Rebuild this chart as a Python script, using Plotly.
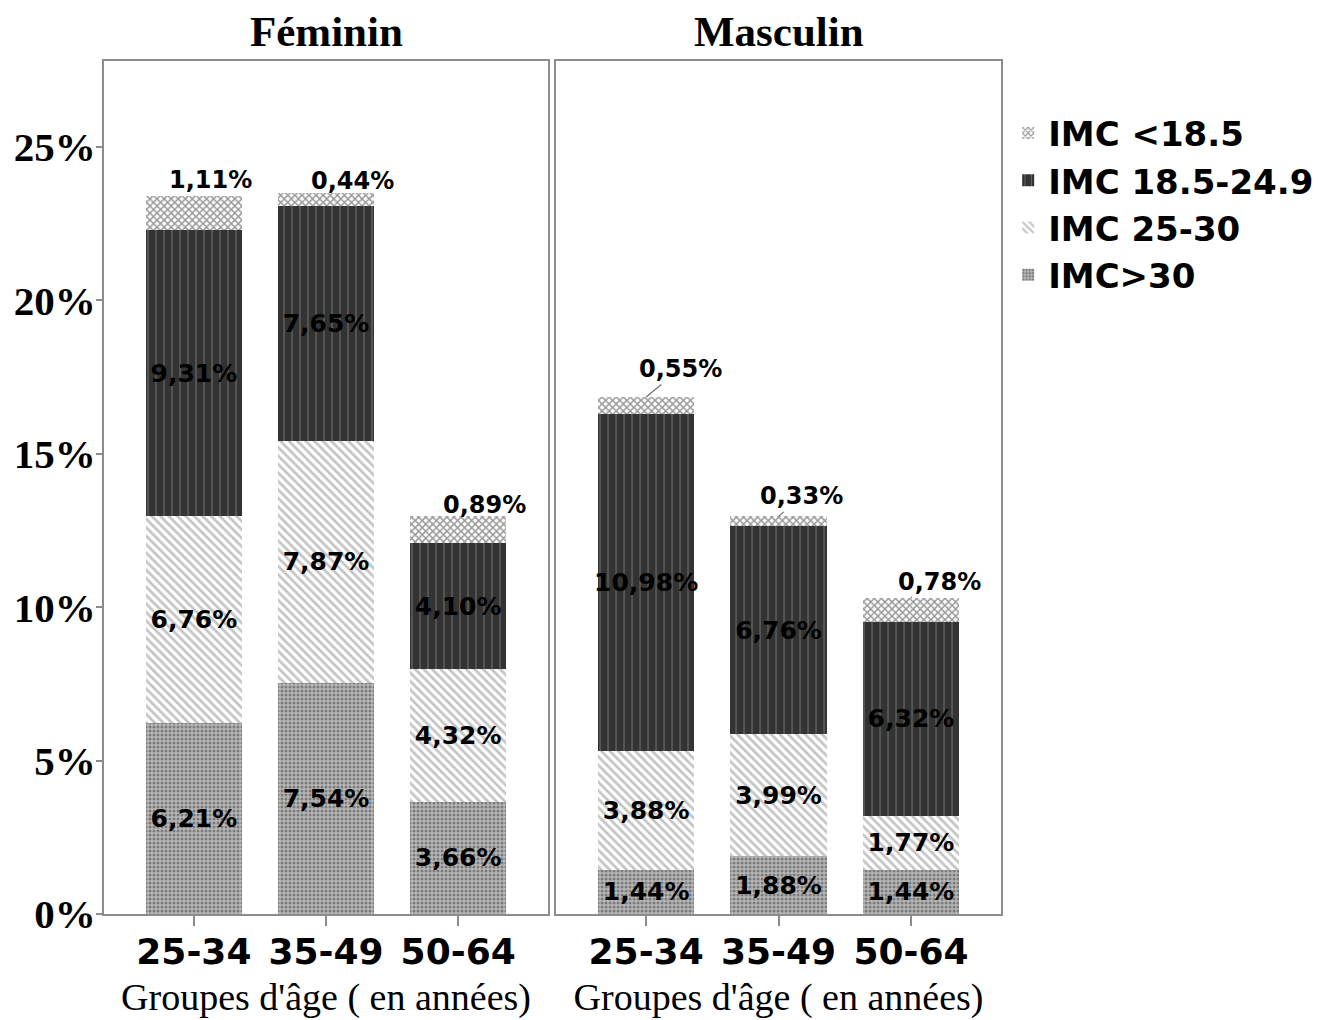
import plotly.graph_objects as go

# ---------------- data ----------------
age_groups = ["25-34", "35-49", "50-64"]
sexes = ["Féminin", "Masculin"]
series_names = ["IMC>30", "IMC 25-30", "IMC 18.5-24.9", "IMC <18.5"]  # stacking order bottom -> top

fem_imc_over30 = [6.21, 7.54, 3.66]
fem_imc_25_30 = [6.76, 7.87, 4.32]
fem_imc_18_25 = [9.31, 7.65, 4.10]
fem_imc_under18 = [1.11, 0.44, 0.89]

mas_imc_over30 = [1.44, 1.88, 1.44]
mas_imc_25_30 = [3.88, 3.99, 1.77]
mas_imc_18_25 = [10.98, 6.76, 6.32]
mas_imc_under18 = [0.55, 0.33, 0.78]

y_tick_vals = [0, 5, 10, 15, 20, 25]
y_tick_text = ["0%", "5%", "10%", "15%", "20%", "25%"]
x_title = "Groupes d'âge ( en années)"

# ---------------- styles ----------------
patterns = {
    "IMC>30": dict(shape=".", bgcolor="#b8b8b8", fgcolor="#7a7a7a", size=4, solidity=0.45, fillmode="replace"),
    "IMC 25-30": dict(shape="\\", bgcolor="#ffffff", fgcolor="#c4c4c4", size=6, solidity=0.45, fillmode="replace"),
    "IMC 18.5-24.9": dict(shape="|", bgcolor="#333333", fgcolor="#6a6a6a", size=8, solidity=0.15, fillmode="replace"),
    "IMC <18.5": dict(shape="x", bgcolor="#ffffff", fgcolor="#9a9a9a", size=5, solidity=0.5, fillmode="replace"),
}
# pixel offsets of the top (IMC <18.5) labels: per panel, per bar
top_label_offsets = {
    "Féminin": [(17, -16), (26, -12), (26, -11)],
    "Masculin": [(34, -28), (23, -20), (29, -16)],
}

SANS = "DejaVu Sans"
SERIF = "Liberation Serif"
AXIS_GRAY = "#8c8c8c"


def fmt(v):
    return f"{v:.2f}".replace(".", ",") + "%"


data = {
    "Féminin": [fem_imc_over30, fem_imc_25_30, fem_imc_18_25, fem_imc_under18],
    "Masculin": [mas_imc_over30, mas_imc_25_30, mas_imc_18_25, mas_imc_under18],
}
axes = {"Féminin": ("x", "y"), "Masculin": ("x2", "y2")}

fig = go.Figure()
for si, sex in enumerate(sexes):
    xa, ya = axes[sex]
    for k, name in enumerate(series_names):
        vals = data[sex][k]
        is_top = name == "IMC <18.5"
        fig.add_trace(go.Bar(
            x=age_groups, y=vals, name=name,
            xaxis=xa, yaxis=ya,
            legendgroup=name, showlegend=(si == 0),
            marker=dict(pattern=patterns[name], line=dict(width=0)),
            width=0.73,
            text=None if is_top else [fmt(v) for v in vals],
            textposition="inside", insidetextanchor="middle",
            textangle=0, constraintext="none",
            textfont=dict(family=SANS, size=25, color="black", weight="bold"),
            hoverinfo="skip",
        ))
    # labels for the top segment
    totals = [sum(s[i] for s in data[sex]) for i in range(len(age_groups))]
    for i, g in enumerate(age_groups):
        ax, ay = top_label_offsets[sex][i]
        fig.add_annotation(
            x=g, y=totals[i], xref=xa, yref=ya,
            text=fmt(data[sex][3][i]), showarrow=True, arrowhead=0,
            arrowwidth=1.2, arrowcolor="#707070", ax=ax, ay=ay, standoff=0,
            font=dict(family=SANS, size=24, color="black", weight="bold"),
        )
    # panel title
    fig.add_annotation(
        x=0.5, y=1, xref=f"{xa} domain", yref=f"{ya} domain",
        yanchor="bottom", yshift=4, showarrow=False, text=sex,
        font=dict(family=SERIF, size=43, color="black", weight="bold"),
    )

common_x = dict(
    range=[-0.68, 2.68], showline=True, mirror=True, linecolor=AXIS_GRAY, linewidth=2,
    ticks="outside", ticklen=10, tickcolor=AXIS_GRAY, tickwidth=1.5,
    ticklabelstandoff=-5,
    tickfont=dict(family=SANS, size=36, color="black", weight="bold"),
    showgrid=False, zeroline=False, automargin=False,
    title=dict(text=x_title, font=dict(family=SERIF, size=38, color="black"), standoff=12),
)
common_y = dict(
    range=[0, 27.8], showline=True, mirror=True, linecolor=AXIS_GRAY, linewidth=2,
    showgrid=False, zeroline=False, tickvals=y_tick_vals, automargin=False,
)

fig.update_layout(
    width=1328, height=1020,
    margin=dict(l=96, r=335, t=53, b=114),
    paper_bgcolor="white", plot_bgcolor="white",
    barmode="stack",
    xaxis=dict(domain=[0, 0.495], anchor="y", **common_x),
    xaxis2=dict(domain=[0.504, 1], anchor="y2", **common_x),
    yaxis=dict(anchor="x", ticktext=y_tick_text, ticks="outside", ticklen=6,
               tickcolor=AXIS_GRAY, tickwidth=1.5, ticklabelstandoff=-8,
               tickfont=dict(family=SERIF, size=41, color="black", weight="bold"), **common_y),
    yaxis2=dict(anchor="x2", showticklabels=False, ticks="", **common_y),
    legend=dict(
        x=1.008, y=0.949, xanchor="left", yanchor="top",
        traceorder="reversed", bgcolor="rgba(0,0,0,0)",
        font=dict(family=SANS, size=34, color="black", weight="bold"),
        itemwidth=30, tracegroupgap=0,
    ),
    showlegend=True,
)

fig.write_html("out.html")
